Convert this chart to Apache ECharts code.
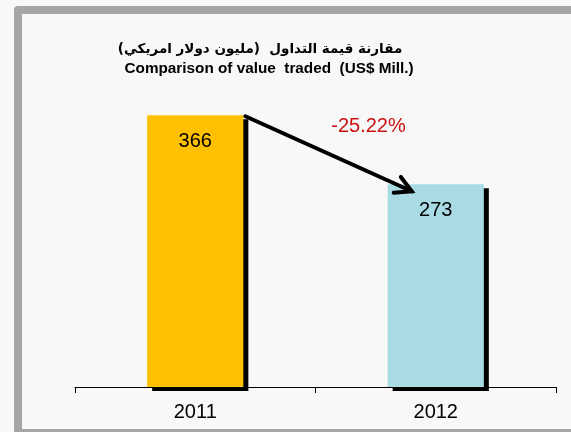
<!DOCTYPE html>
<html>
<head>
<meta charset="utf-8">
<script src="https://cdn.jsdelivr.net/npm/echarts@6/dist/echarts.min.js"></script>
<style>
  html, body { margin: 0; padding: 0; background: #f8f8f8; }
  #statChartsValueTraded { width: 571px; height: 432px; }
</style>
</head>
<body>
<div id="statChartsValueTraded"></div>
<script>
// data
var years = ['2011', '2012']
var valueTraded = [366, 273]
var barColors = ['#ffc000', '#a9dbe5']
var changeLabel = '-25.22%'
var titleAr = 'مقارنة قيمة التداول  (مليون دولار امريكي)'
var titleEn = 'Comparison of value  traded  (US$ Mill.)'

// charts locate
var chartEl = document.getElementById('statChartsValueTraded')
var chart = echarts.init(chartEl)

var option = {
  backgroundColor: '#f8f8f8',
  animation: false,
  title: [{
    text: titleAr,
    left: 255,
    top: 37,
    textAlign: 'center',
    textStyle: { fontFamily: 'DejaVu Sans', fontWeight: 'bold', fontSize: 13.5, color: '#000' }
  }, {
    text: titleEn,
    left: 264,
    top: 56,
    textAlign: 'center',
    textStyle: { fontFamily: 'Liberation Sans', fontWeight: 'bold', fontSize: 15.3, color: '#000' }
  }],
  grid: { left: 75, right: 15, top: 90, bottom: 45 },
  xAxis: {
    type: 'category',
    data: years,
    axisLine: { lineStyle: { color: '#000', width: 1 } },
    axisTick: { show: true, length: 6, lineStyle: { color: '#000' } },
    axisLabel: { fontFamily: 'Liberation Sans', fontSize: 20, color: '#000', margin: 15 }
  },
  yAxis: {
    type: 'value',
    min: 0,
    max: 400,
    show: false,
    splitLine: { show: false }
  },
  series: [{
    type: 'bar',
    barWidth: '40%',
    data: valueTraded.map(function (v, i) {
      return { value: v, itemStyle: { color: barColors[i] } }
    }),
    itemStyle: {
      shadowColor: '#000',
      shadowBlur: 0,
      shadowOffsetX: 5,
      shadowOffsetY: 4
    },
    label: {
      show: true,
      position: 'insideTop',
      distance: 16,
      fontFamily: 'Liberation Sans',
      fontSize: 20,
      color: '#000'
    }
  }]
}
chart.setOption(option, true)

// arrow between the two bars, placed from the scales
var p0 = chart.convertToPixel({ seriesIndex: 0 }, [0, valueTraded[0]])
var p1 = chart.convertToPixel({ seriesIndex: 0 }, [1, valueTraded[1]])
var bandW = chart.convertToPixel({ xAxisIndex: 0 }, 1) - chart.convertToPixel({ xAxisIndex: 0 }, 0)
var barW = bandW * 0.4
var sx = p0[0] + barW / 2 + 2
var sy = p0[1] + 1
var ex = p1[0] - barW / 4
var ey = p1[1] + 7
var ang = Math.atan2(ey - sy, ex - sx)
var head = 18
var spread = 0.5
var h1 = [ex - head * Math.cos(ang - spread), ey - head * Math.sin(ang - spread)]
var h2 = [ex - head * Math.cos(ang + spread), ey - head * Math.sin(ang + spread)]

chart.setOption({
  graphic: [
    // outer frame
    { type: 'rect', z: -10, shape: { x: 14, y: 6, width: 600, height: 460, r: 4 }, style: { fill: '#a6a6a6' } },
    { type: 'rect', z: -9, shape: { x: 22, y: 14, width: 600, height: 415 }, style: { fill: '#f8f8f8' } },
    { type: 'line', z: 50, shape: { x1: sx, y1: sy, x2: ex, y2: ey }, style: { stroke: '#000', lineWidth: 4, lineCap: 'round' } },
    { type: 'polyline', z: 50, shape: { points: [h1, [ex, ey], h2] }, style: { stroke: '#000', lineWidth: 4, lineCap: 'round', lineJoin: 'miter', fill: null } },
    {
      type: 'text', z: 50,
      x: (sx + ex) / 2 + 40, y: 126,
      style: { text: changeLabel, fill: '#cc1111', font: '20px "Liberation Sans"', align: 'center', verticalAlign: 'middle' }
    }
  ]
})
</script>
</body>
</html>
